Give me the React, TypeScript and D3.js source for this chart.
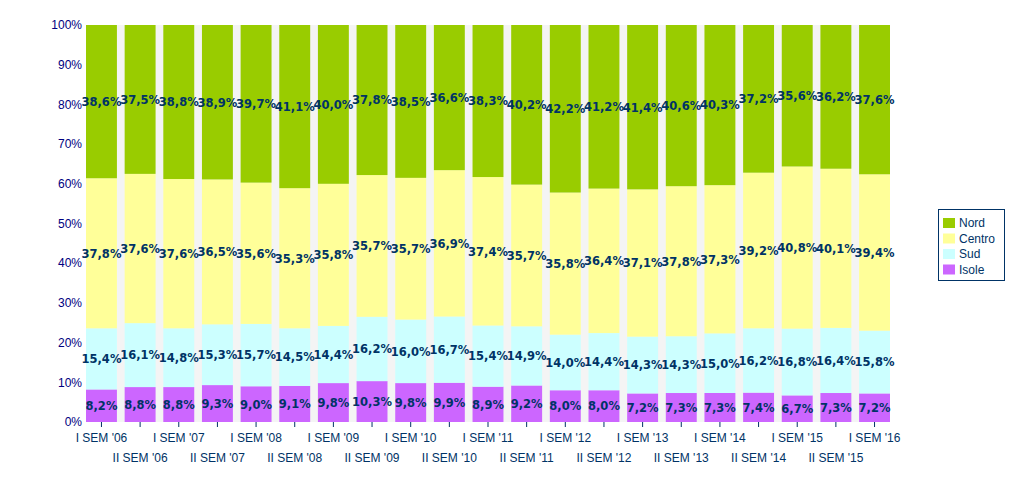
import React from "react";
import * as d3 from "d3";

const categories = [
  "I SEM '06", "II SEM '06", "I SEM '07", "II SEM '07", "I SEM '08", "II SEM '08",
  "I SEM '09", "II SEM '09", "I SEM '10", "II SEM '10", "I SEM '11", "II SEM '11",
  "I SEM '12", "II SEM '12", "I SEM '13", "II SEM '13", "I SEM '14", "II SEM '14",
  "I SEM '15", "II SEM '15", "I SEM '16",
];
const nord = [38.6, 37.5, 38.8, 38.9, 39.7, 41.1, 40.0, 37.8, 38.5, 36.6, 38.3, 40.2, 42.2, 41.2, 41.4, 40.6, 40.3, 37.2, 35.6, 36.2, 37.6];
const centro = [37.8, 37.6, 37.6, 36.5, 35.6, 35.3, 35.8, 35.7, 35.7, 36.9, 37.4, 35.7, 35.8, 36.4, 37.1, 37.8, 37.3, 39.2, 40.8, 40.1, 39.4];
const sud = [15.4, 16.1, 14.8, 15.3, 15.7, 14.5, 14.4, 16.2, 16.0, 16.7, 15.4, 14.9, 14.0, 14.4, 14.3, 14.3, 15.0, 16.2, 16.8, 16.4, 15.8];
const isole = [8.2, 8.8, 8.8, 9.3, 9.0, 9.1, 9.8, 10.3, 9.8, 9.9, 8.9, 9.2, 8.0, 8.0, 7.2, 7.3, 7.3, 7.4, 6.7, 7.3, 7.2];
const yTicks = [0, 10, 20, 30, 40, 50, 60, 70, 80, 90, 100];

const seriesNames = ["Isole", "Sud", "Centro", "Nord"];
const seriesValues = [isole, sud, centro, nord];
const colors: Record<string, string> = {
  Nord: "#99cc00",
  Centro: "#ffff99",
  Sud: "#ccffff",
  Isole: "#cc66ff",
};
const legendOrder = ["Nord", "Centro", "Sud", "Isole"];

export default function App() {
  const W = 1036, H = 491;
  const left = 86, right = 890, top = 25, bottom = 422;
  const x = d3.scaleBand<string>().domain(categories).range([left, right]).paddingInner(0.2).paddingOuter(0);
  const y = d3.scaleLinear().domain([0, 100]).range([bottom, top]);

  const rows = categories.map((c, i) => {
    const obj: any = { cat: c };
    seriesNames.forEach((s, k) => (obj[s] = seriesValues[k][i]));
    return obj;
  });
  const stack = d3.stack<any>().keys(seriesNames).offset(d3.stackOffsetExpand);
  const stacked = stack(rows);

  const labelFont = "'DejaVu Sans', sans-serif";
  const axisFont = "'Liberation Sans', Arial, sans-serif";

  return (
    <svg width={W} height={H} style={{ position: "absolute", left: 0, top: 0, background: "#fff" }}>
      <rect x={left} y={top} width={right - left} height={bottom - top} fill="#f4f4f4" />
      {stacked.map((layer) => (
        <g key={layer.key}>
          {layer.map((d, i) => (
            <rect
              key={i}
              x={x(categories[i])}
              y={y(d[1] * 100)}
              width={x.bandwidth()}
              height={y(d[0] * 100) - y(d[1] * 100)}
              fill={colors[layer.key]}
            />
          ))}
        </g>
      ))}
      {yTicks.map((t) => (
        <text key={t} x={82} y={y(t)} dy="0.35em" textAnchor="end" fontFamily={axisFont} fontSize={12} fill="#000080">
          {t}%
        </text>
      ))}
      {categories.map((c, i) => {
        const cx = (x(c) as number) + x.bandwidth() / 2;
        return (
          <g key={c}>
            <line x1={cx} x2={cx} y1={bottom} y2={bottom + 5} stroke="#003366" strokeWidth={1} />
            <text x={cx} y={i % 2 === 0 ? 442 : 462} textAnchor="middle" fontFamily={axisFont} fontSize={12} fill="#003366">
              {c}
            </text>
          </g>
        );
      })}
      {stacked.map((layer) => (
        <g key={"l" + layer.key}>
          {layer.map((d, i) => {
            const cx = (x(categories[i]) as number) + x.bandwidth() / 2;
            const cy = (y(d[0] * 100) + y(d[1] * 100)) / 2;
            const v = (layer as any)[i].data[layer.key] as number;
            return (
              <text key={i} x={cx} y={cy} dy="0.38em" textAnchor="middle" fontFamily={labelFont} fontWeight="bold" fontSize={11.5} fill="#003366">
                {v.toFixed(1).replace(".", ",")}%
              </text>
            );
          })}
        </g>
      ))}
      <rect x={938.5} y={209.5} width={66} height={71} fill="#fff" stroke="#003366" strokeWidth={1} />
      {legendOrder.map((s, k) => (
        <g key={s}>
          <rect x={943} y={218 + k * 15.5} width={12} height={10} fill={colors[s]} />
          <text x={959} y={223 + k * 15.5} dy="0.35em" fontFamily={axisFont} fontSize={12} fill="#003366">
            {s}
          </text>
        </g>
      ))}
    </svg>
  );
}
